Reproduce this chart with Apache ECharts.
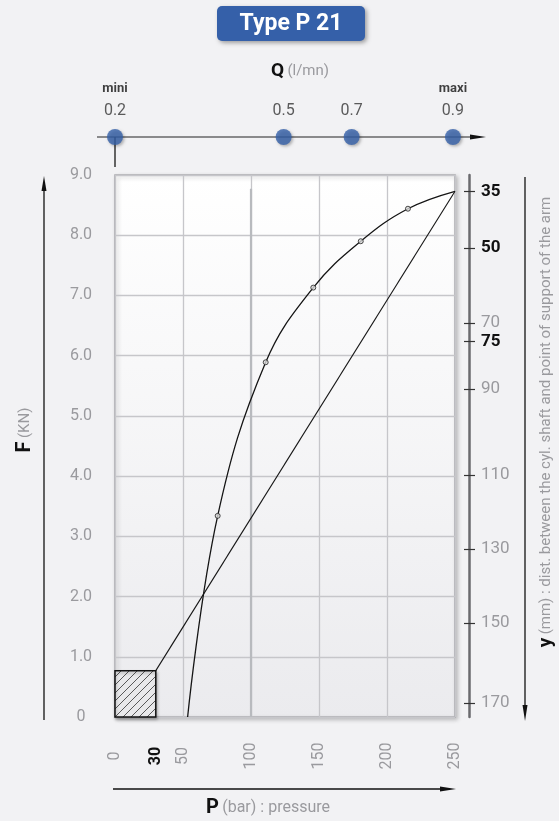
<!DOCTYPE html>
<html><head><meta charset="utf-8">
<script src="https://cdn.jsdelivr.net/npm/echarts@6/dist/echarts.min.js"></script>
<style>html,body{margin:0;padding:0;background:#f2f2f4;}#c{width:559px;height:821px;}</style>
</head><body><div id="c"></div>
<script>
// ---- data ----
const chartTitle = 'Type P 21';
const pLabels = [0, 30, 50, 100, 150, 200, 250];
const pBold = [30];
const curveP = [53.4, 75.5, 110.8, 145.8, 180.7, 215.4, 250];
const curveF = [0, 3.34, 5.89, 7.13, 7.90, 8.44, 8.73];
const markP = [75.5, 110.8, 145.8, 180.7, 215.4];
const markF = [3.34, 5.89, 7.13, 7.90, 8.44];
const lineP = [30, 250];
const lineF = [0.77, 8.73];
const hatchP = [0, 30];
const hatchF = [0, 0.77];
const qValues = ['0.2', '0.5', '0.7', '0.9'];
const qNotes = ['mini', '', '', 'maxi'];
const qAtP = [0, 124, 174, 248.5];
const yMM = [35, 50, 70, 75, 90, 110, 130, 150, 170];
const yAtF = [8.726, 7.79, 6.545, 6.234, 5.449, 4.02, 2.79, 1.56, 0.233];
const yBold = [35, 50, 75];

// ---- build ----
const FONT = 'Roboto, "DejaVu Sans", sans-serif';
const NARROW = '"Liberation Sans Narrow", "Roboto", sans-serif';
const chart = echarts.init(document.getElementById('c'), null, {renderer: 'canvas'});

function zip(a, b) { return a.map((v, i) => [v, b[i]]); }
function mmFor(f) {
  let best = 0;
  yAtF.forEach((v, i) => { if (Math.abs(v - f) < Math.abs(yAtF[best] - f)) best = i; });
  return yMM[best];
}

// hatch pattern
const pat = document.createElement('canvas');
pat.width = 8; pat.height = 8;
(function () {
  const c = pat.getContext('2d');
  c.fillStyle = '#e9e9eb'; c.fillRect(0, 0, 8, 8);
  c.strokeStyle = '#333'; c.lineWidth = 0.8;
  c.beginPath();
  c.moveTo(0, 8); c.lineTo(8, 0);
  c.moveTo(-4, 4); c.lineTo(4, -4);
  c.moveTo(4, 12); c.lineTo(12, 4);
  c.stroke();
})();

const GL = 115, GT = 175, GW = 340, GH = 542;

const option = {
  backgroundColor: '#f2f2f4',
  animation: false,
  grid: [
    {left: GL, top: GT, width: GW, height: GH, show: true,
     backgroundColor: new echarts.graphic.LinearGradient(0, 0, 0, 1, [
       {offset: 0, color: '#ffffff'}, {offset: 1, color: '#ebebee'}]),
     borderColor: '#a9a9ad', borderWidth: 1.5,
     shadowColor: 'rgba(0,0,0,0.22)', shadowBlur: 4, shadowOffsetX: 2, shadowOffsetY: 2},
    {left: GL, top: 130, width: GW, height: 7, show: false}
  ],
  xAxis: [
    {type: 'value', gridIndex: 0, min: 0, max: 250, interval: 50,
     axisLine: {show: false}, axisTick: {show: false},
     splitLine: {show: true, lineStyle: {color: '#c6c6ca', width: 1.3}},
     axisLabel: {customValues: pLabels, rotate: 90, margin: 39, align: 'center', verticalAlign: 'middle',
       formatter: v => pBold.indexOf(v) >= 0 ? '{b|' + v + '}' : '{g|' + v + '}',
       rich: {b: {fontFamily: FONT, fontSize: 16, fontWeight: 'bold', color: '#111'},
              g: {fontFamily: FONT, fontSize: 16, color: '#9a9a9e'}}}},
    {type: 'value', gridIndex: 1, min: 0, max: 250, show: false}
  ],
  yAxis: [
    {type: 'value', gridIndex: 0, min: 0, max: 9, interval: 1,
     axisLine: {show: false}, axisTick: {show: false},
     splitLine: {show: true, lineStyle: {color: '#c6c6ca', width: 1.3}},
     axisLabel: {margin: 34, align: 'center', color: '#9a9a9e', fontFamily: FONT, fontSize: 16,
       formatter: v => v === 0 ? '0' : v.toFixed(1)}},
    {type: 'value', gridIndex: 0, min: 0, max: 9, position: 'right', offset: 14,
     axisLine: {show: true, lineStyle: {color: '#6a6a6e', width: 2.5}},
     axisTick: {show: true, customValues: yAtF, length: 6, lineStyle: {color: '#333', width: 1.2}},
     splitLine: {show: false},
     axisLabel: {customValues: yAtF, margin: 12, verticalAlign: 'middle',
       formatter: v => { const m = mmFor(v); return yBold.indexOf(m) >= 0 ? '{b|' + m + '}' : '{g|' + m + '}'; },
       rich: {b: {fontFamily: FONT, fontSize: 17, fontWeight: 'bold', color: '#111'},
              g: {fontFamily: FONT, fontSize: 17, color: '#9a9a9e'}}}},
    {type: 'value', gridIndex: 0, min: 0, max: 9, position: 'right', offset: 14,
     axisLine: {show: false}, splitLine: {show: false}, axisLabel: {show: false},
     axisTick: {show: true, inside: true, customValues: yAtF, length: 5, lineStyle: {color: '#333', width: 1.2}}},
    {type: 'value', gridIndex: 1, min: 0, max: 1, show: false}
  ],
  series: [
    {type: 'custom', xAxisIndex: 0, yAxisIndex: 0, z: 3,
     data: [[hatchP[0], hatchF[0], hatchP[1], hatchF[1]]],
     renderItem: (params, api) => {
       const p0 = api.coord([api.value(0), api.value(1)]);
       const p1 = api.coord([api.value(2), api.value(3)]);
       return {type: 'rect',
         shape: {x: p0[0], y: p1[1], width: p1[0] - p0[0], height: p0[1] - p1[1]},
         style: {fill: {image: pat, repeat: 'repeat'}, stroke: '#111', lineWidth: 1.5,
                 shadowColor: 'rgba(0,0,0,0.25)', shadowBlur: 3, shadowOffsetX: 1, shadowOffsetY: 2}};
     }},
    {type: 'line', xAxisIndex: 0, yAxisIndex: 0, data: [[100, 0], [100, 8.77]], showSymbol: false, z: 1,
     lineStyle: {color: '#b8babe', width: 2.2}, silent: true},
    {type: 'line', xAxisIndex: 0, yAxisIndex: 0, data: zip(curveP, curveF), smooth: 0.4,
     showSymbol: false, lineStyle: {color: '#151515', width: 1.3}, z: 4},
    {type: 'line', xAxisIndex: 0, yAxisIndex: 0, data: zip(lineP, lineF), showSymbol: false,
     lineStyle: {color: '#151515', width: 1.1}, z: 4},
    {type: 'scatter', xAxisIndex: 0, yAxisIndex: 0, data: zip(markP, markF), symbol: 'circle', symbolSize: 5, z: 5,
     itemStyle: {color: '#d8d8d8', borderColor: '#222', borderWidth: 1}},
    {type: 'scatter', xAxisIndex: 1, yAxisIndex: 3, symbol: 'circle', symbolSize: 16, z: 6,
     data: qAtP.map((p, i) => ({value: [p, 0], note: qNotes[i], q: qValues[i]})),
     itemStyle: {color: '#3560a9', shadowColor: 'rgba(0,0,0,0.35)', shadowBlur: 3, shadowOffsetX: 1.5, shadowOffsetY: 1.5},
     label: {show: true, position: 'top', distance: 8,
       formatter: p => (p.data.note ? '{m|' + p.data.note + '}\n' : '') + '{v|' + p.data.q + '}',
       rich: {m: {fontFamily: FONT, fontSize: 13, fontWeight: 'bold', color: '#111', lineHeight: 24},
              v: {fontFamily: FONT, fontSize: 16, color: '#333', lineHeight: 20}}}}
  ],
  graphic: [
    // title box
    {type: 'rect', shape: {x: 217, y: 6, width: 148, height: 35, r: 5}, z: 10,
     style: {fill: '#3560a9', shadowColor: 'rgba(0,0,0,0.35)', shadowBlur: 4, shadowOffsetX: 2, shadowOffsetY: 2}},
    {type: 'text', x: 291, y: 24, z: 11,
     style: {text: chartTitle, fill: '#fff', font: 'bold 23px ' + NARROW, align: 'center', verticalAlign: 'middle'}},
    // Q title
    {type: 'text', x: 300, y: 71, z: 10,
     style: {text: '{b|Q} {g|(l/mn)}', align: 'center', verticalAlign: 'middle',
       rich: {b: {fontFamily: FONT, fontSize: 19, fontWeight: 'bold', fill: '#111'},
              g: {fontFamily: FONT, fontSize: 15, fill: '#9a9a9e'}}}},
    // Q axis arrow
    {type: 'line', shape: {x1: 97, y1: 137, x2: 472, y2: 137}, z: 4, style: {stroke: '#222', lineWidth: 1.2}},
    {type: 'polygon', shape: {points: [[470, 134.5], [486, 137], [470, 139.5]]}, style: {fill: '#111'}},
    {type: 'line', shape: {x1: 115, y1: 137, x2: 115, y2: 167}, z: 4, style: {stroke: '#333', lineWidth: 1.5}},
    // left arrow
    {type: 'line', shape: {x1: 44, y1: 720, x2: 44, y2: 188}, style: {stroke: '#111', lineWidth: 1.3}},
    {type: 'polygon', shape: {points: [[41.5, 191], [44, 176], [46.5, 191]]}, style: {fill: '#111'}},
    {type: 'text', x: 25, y: 430, rotation: Math.PI / 2,
     style: {text: '{b|F} {g|(KN)}', align: 'center', verticalAlign: 'middle',
       rich: {b: {fontFamily: FONT, fontSize: 20, fontWeight: 'bold', fill: '#111'},
              g: {fontFamily: FONT, fontSize: 15, fill: '#9a9a9e'}}}},
    // right arrow
    {type: 'line', shape: {x1: 525, y1: 177, x2: 525, y2: 708}, style: {stroke: '#111', lineWidth: 1.3}},
    {type: 'polygon', shape: {points: [[522.5, 705], [525, 721], [527.5, 705]]}, style: {fill: '#111'}},
    {type: 'text', x: 546, y: 422, rotation: Math.PI / 2,
     style: {text: '{b|y} {g|(mm) : dist. between the cyl. shaft and point of support of the arm}',
       align: 'center', verticalAlign: 'middle',
       rich: {b: {fontFamily: FONT, fontSize: 19, fontWeight: 'bold', fill: '#111'},
              g: {fontFamily: FONT, fontSize: 15, fill: '#9a9a9e'}}}},
    // bottom arrow
    {type: 'line', shape: {x1: 113, y1: 789, x2: 442, y2: 789}, style: {stroke: '#111', lineWidth: 1.3}},
    {type: 'polygon', shape: {points: [[440, 786.5], [456, 789], [440, 791.5]]}, style: {fill: '#111'}},
    {type: 'text', x: 268, y: 808,
     style: {text: '{b|P} {g|(bar) : pressure}', align: 'center', verticalAlign: 'middle',
       rich: {b: {fontFamily: FONT, fontSize: 20, fontWeight: 'bold', fill: '#111'},
              g: {fontFamily: FONT, fontSize: 16, fill: '#9a9a9e'}}}}
  ]
};
chart.setOption(option);
</script></body></html>
